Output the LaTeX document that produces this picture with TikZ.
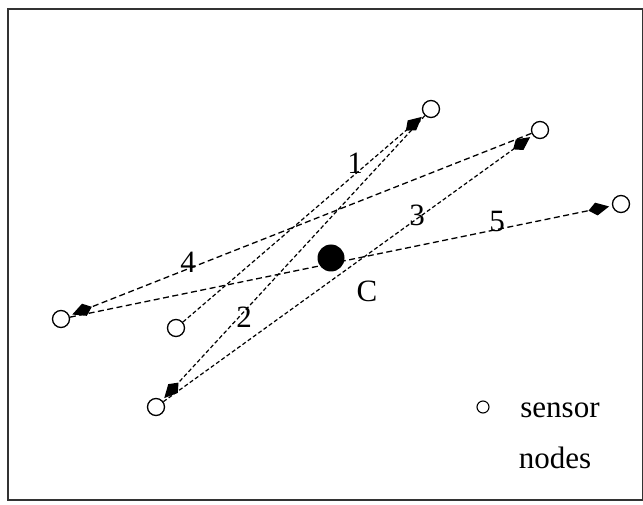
\documentclass[tikz,border=0pt]{standalone}
\usepackage{fontspec}
\setmainfont{Liberation Serif}
\usetikzlibrary{arrows.meta}
\begin{document}
\begin{tikzpicture}[x=1pt,y=1pt,
  sensor/.style={circle,draw,line width=1.3pt,minimum size=17pt,inner sep=0pt},
  hub/.style={circle,fill=black,minimum size=27pt,inner sep=0pt},
  link/.style={dash pattern=on 4pt off 2.5pt,line width=1.2pt},
  longlink/.style={dash pattern=on 6pt off 3.5pt,line width=1.3pt},
  tip/.style={-{Kite[length=21pt,width=13pt,inset=8pt,fill=black]},shorten >=3pt},
  lbl/.style={font=\fontsize{31}{34}\selectfont,inner sep=0pt}
]
\useasboundingbox (0,0) rectangle (643,504);
\node[draw=black!80,line width=2pt,minimum width=634.5pt,minimum height=491pt,inner sep=0pt,anchor=south west] (frame) at (7,3) {};

\node[sensor] (A) at (431,395) {};
\node[sensor] (B) at (540,374) {};
\node[sensor] (D) at (621,300) {};
\node[sensor] (E) at (61,185) {};
\node[sensor] (F) at (176,176) {};
\node[sensor] (G) at (156,97) {};
\node[hub] (C) at (331,246) {};

\draw[link,tip] (F) -- (A);
\draw[link,tip] (A) -- (G);
\draw[link,tip] (G) -- (B);
\draw[longlink,tip] (B) -- (E);
\draw[longlink,tip] (E) -- (D);

\node[lbl] (l1) at (355,341) {1};
\node[lbl] (l2) at (244,187) {2};
\node[lbl] (l3) at (417,289) {3};
\node[lbl] (l4) at (188,242) {4};
\node[lbl] (l5) at (497,282) {5};
\node[lbl] (lC) at (367,213) {C};

\node[sensor,minimum size=12pt,line width=1.1pt] (key) at (483,97) {};
\node[lbl] (t1) at (560,94) {sensor};
\node[lbl] (t2) at (555,46) {nodes};
\end{tikzpicture}
\end{document}
